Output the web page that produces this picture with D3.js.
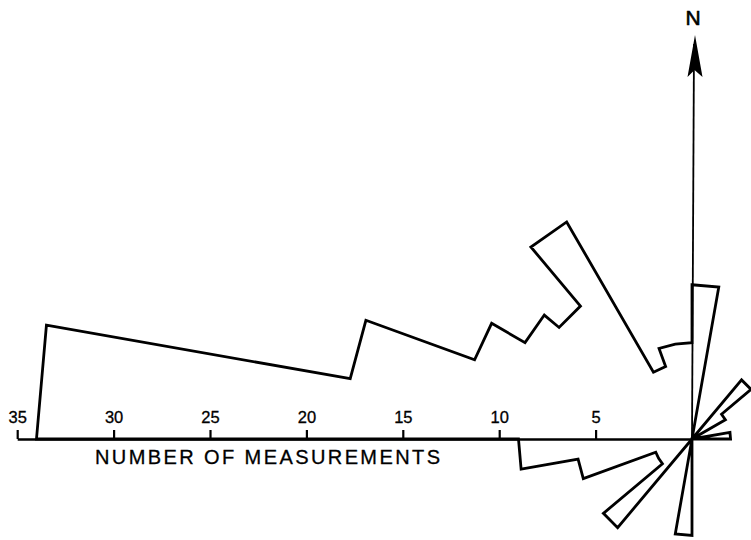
<!DOCTYPE html>
<html>
<head>
<meta charset="utf-8">
<script src="https://cdn.jsdelivr.net/npm/d3@7"></script>
<style>
  body { margin: 0; background: #fff; }
  svg { display: block; }
</style>
</head>
<body>
<div id="rose"></div>
<script>

// azimuth of each 10 degree class (start of class, degrees clockwise from N)
var bin_start = d3.range(0, 360, 10);

var counts = [
  8, 0, 0, 0, 4, 2, 0, 0, 2,        // 0 - 90
  0, 0, 0, 0, 0, 0, 0, 0, 0,        // 90 - 180
  5, 0, 0, 0, 6, 2, 2, 6, 9,        // 180 - 270
  34, 18, 12, 10, 9, 13, 4, 5, 5    // 270 - 360
];

var tick_values = [5, 10, 15, 20, 25, 30, 35];
var axis_title = "NUMBER OF MEASUREMENTS";

var width = 751, height = 540;
var cx = 692, cy = 439;
var px_per_unit = 19.28;

var svg = d3.select('#rose').append('svg')
  .attr('width', width)
  .attr('height', height);

// radius scale for the petals
var r = d3.scaleLinear().domain([0, 35]).range([0, 35 * px_per_unit]);

// x scale along the west axis (values grow towards the left)
var x = d3.scaleLinear().domain([0, 35]).range([cx, cx - 35 * px_per_unit]);

// build outline points: two corners per class, straight chord between them
var pts = [];
bin_start.forEach(function(a, i){
  pts.push({ang: a, val: counts[i]});
  pts.push({ang: a + 10, val: counts[i]});
});

var rose_line = d3.lineRadial()
  .angle(function(d){ return d.ang * Math.PI / 180; })
  .radius(function(d){ return r(d.val); })
  .curve(d3.curveLinearClosed);

var g = svg.append('g')
  .attr('transform', 'translate(' + cx + ',' + cy + ')');

// north arrow line
g.append('line')
  .attr('x1', 0).attr('y1', 0)
  .attr('x2', 2).attr('y2', -395)
  .style('stroke', '#000')
  .style('stroke-width', 1.8);

// arrow head
g.append('path')
  .attr('d', 'M3,-404 L-4.5,-362 L2.5,-369 L10.5,-362 Z')
  .style('fill', '#000');

g.append('text')
  .attr('x', 1)
  .attr('y', -414)
  .attr('text-anchor', 'middle')
  .style('font', '21px "Liberation Sans", Arial, sans-serif')
  .style('stroke', '#000')
  .style('stroke-width', 0.6)
  .text('N');

// the rose outline
g.append('path')
  .datum(pts)
  .attr('d', rose_line)
  .style('fill', 'none')
  .style('stroke', '#000')
  .style('stroke-width', 2.8)
  .style('stroke-linejoin', 'miter');

// scale axis along west
var axis = svg.append('g')
  .attr('class', 'axis')
  .attr('transform', 'translate(0,' + cy + ')')
  .call(d3.axisTop(x)
    .tickValues(tick_values)
    .tickSize(9)
    .tickSizeOuter(0)
    .tickPadding(7));

axis.select('.domain')
  .style('stroke', '#000')
  .style('stroke-width', 2.6);
axis.selectAll('.tick line')
  .style('stroke', '#000')
  .style('stroke-width', 2.2);
axis.selectAll('.tick text')
  .style('font', '16.5px "Liberation Sans", Arial, sans-serif')
  .style('fill', '#000')
  .style('stroke', '#000')
  .style('stroke-width', 0.3);

svg.append('text')
  .attr('x', 95)
  .attr('y', 464)
  .attr('textLength', 345)
  .attr('lengthAdjust', 'spacing')
  .style('font', '20px "Liberation Sans", Arial, sans-serif')
  .style('stroke', '#000')
  .style('stroke-width', 0.3)
  .text(axis_title);

</script>
</body>
</html>
